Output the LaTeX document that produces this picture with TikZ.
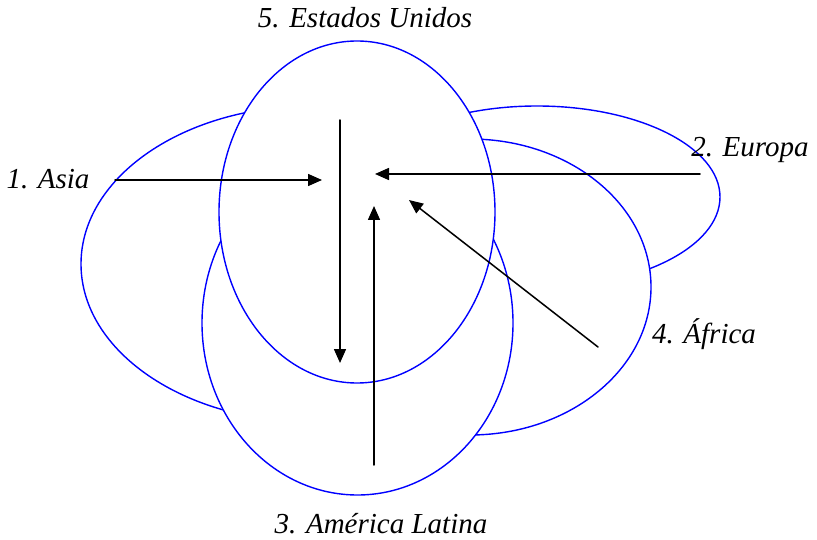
\documentclass[tikz,border=0pt]{standalone}
\usepackage{fontspec}
\setmainfont{Liberation Serif}
\newfontfamily\placefont{Liberation Serif}
\usetikzlibrary{arrows.meta}

\tikzset{
	region/.style={color=blue, fill=white, line width=1.4pt},
	flow/.style={->, line width=1.5pt},
	place/.style={font=\placefont\fontsize{29}{34}\selectfont\itshape, anchor=base, inner sep=0pt}
}

\begin{document}
\begin{tikzpicture}[line cap=round,line join=round,>={Triangle[length=14pt,width=12pt]},x=1pt,y=-1pt]
			\useasboundingbox (0,0) rectangle (817,540);
			% regions
			\filldraw[region] (312,264) ellipse (231pt and 158pt);
			\filldraw[region] (537,197) ellipse (183pt and 91pt);
			\filldraw[region] (470,287) ellipse (181pt and 148pt);
			\filldraw[region] (357.5,323) ellipse (155.5pt and 172pt);
			\filldraw[region] (357,212) ellipse (138pt and 171pt);
			% labels
			\node[place] (usa) at (365,28) {5. Estados Unidos};
			\node[place] (asia) at (48,189) {1. Asia};
			\node[place] (europa) at (750,157) {2. Europa};
			\node[place] (africa) at (704,343) {4. África};
			\node[place] (latina) at (381,533) {3. América Latina};
			% arrows
			\coordinate (asiaA) at (115,180);
			\coordinate (asiaB) at (322,180);
			\coordinate (usaA) at (340,120);
			\coordinate (usaB) at (340,363);
			\coordinate (europaA) at (700,174);
			\coordinate (europaB) at (375,174);
			\coordinate (latinaA) at (374,465);
			\coordinate (latinaB) at (374,206);
			\coordinate (africaA) at (598,347);
			\coordinate (africaB) at (409,200);
			\draw[flow] (asiaA) -- (asiaB);
			\draw[flow] (usaA) -- (usaB);
			\draw[flow] (europaA) -- (europaB);
			\draw[flow] (latinaA) -- (latinaB);
			\draw[flow] (africaA) -- (africaB);
\end{tikzpicture}
\end{document}
